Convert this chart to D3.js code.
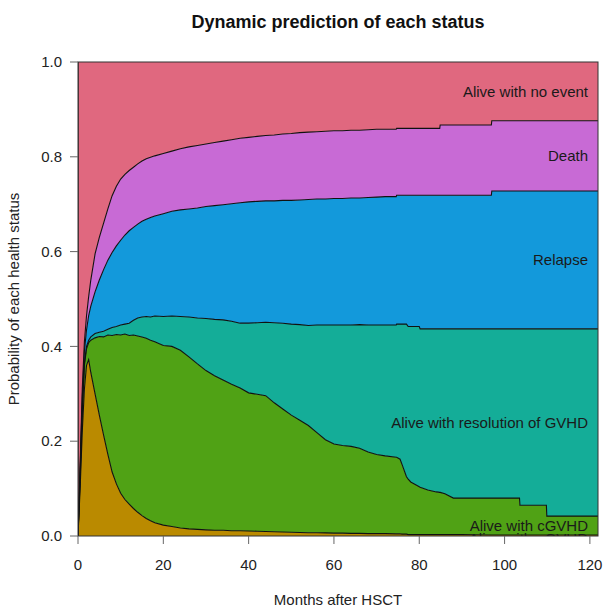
<!DOCTYPE html>
<html><head><meta charset="utf-8">
<script src="https://cdn.jsdelivr.net/npm/d3@7"></script>
<style>
body{margin:0;background:#fff}
svg{display:block}
text{font-family:"Liberation Sans",Arial,Helvetica,sans-serif}
</style>
</head><body>
<svg id="chart" width="604" height="610"></svg>
<script>
// ---- data (cumulative stacked probabilities) ----
const months = [0,0.5,1,1.5,2,2.5,3,4,5,6,7,8,9,10,11,12,13,14,15,16,17,18,20,22,24,26,28,30,32,34,36,38,40,42,44,46,48,50,52,54,56,58,60,62,64,66,68,70,72,74.6,74.7,75.5,76,77,77.4,78,80,80.2,82,84,84.8,84.9,86,88,90,96.9,97,103.5,103.6,109.8,109.9,121.9];

const stateNames = ["Alive with aGVHD","Alive with cGVHD","Alive with resolution of GVHD","Relapse","Death","Alive with no event"];

const cumAGVHD = [0,0.10,0.22,0.31,0.36,0.372,0.345,0.30,0.255,0.213,0.172,0.135,0.11,0.09,0.077,0.067,0.058,0.05,0.043,0.037,0.032,0.028,0.023,0.020,0.017,0.015,0.014,0.013,0.012,0.012,0.011,0.011,0.0105,0.010,0.0095,0.009,0.0085,0.008,0.0075,0.007,0.007,0.0065,0.006,0.006,0.0055,0.0055,0.005,0.005,0.005,0.0045,0.0045,0.0045,0.004,0.004,0.003,0.003,0.003,0.003,0.003,0.003,0.003,0.003,0.003,0.003,0.003,0.002,0.002,0.002,0.002,0.002,0.002,0.002];

const cumCGVHD = [0,0.12,0.26,0.36,0.395,0.408,0.413,0.418,0.421,0.42,0.424,0.423,0.425,0.424,0.426,0.423,0.424,0.422,0.42,0.417,0.413,0.41,0.402,0.40,0.392,0.378,0.363,0.349,0.338,0.329,0.32,0.312,0.302,0.299,0.296,0.281,0.268,0.255,0.244,0.233,0.218,0.203,0.194,0.191,0.189,0.185,0.177,0.172,0.169,0.166,0.166,0.162,0.15,0.125,0.12,0.114,0.104,0.103,0.097,0.093,0.092,0.092,0.089,0.08,0.08,0.08,0.08,0.08,0.065,0.065,0.042,0.042];

const cumResolved = [0,0.13,0.27,0.365,0.40,0.413,0.42,0.427,0.43,0.432,0.436,0.44,0.442,0.445,0.447,0.449,0.455,0.46,0.462,0.463,0.462,0.464,0.463,0.464,0.463,0.462,0.46,0.459,0.457,0.456,0.453,0.449,0.449,0.45,0.451,0.45,0.449,0.447,0.446,0.444,0.445,0.445,0.445,0.445,0.445,0.446,0.445,0.445,0.445,0.445,0.447,0.447,0.447,0.447,0.442,0.442,0.442,0.437,0.437,0.437,0.437,0.437,0.437,0.437,0.437,0.437,0.437,0.437,0.437,0.437,0.437,0.437];

const cumRelapse = [0,0.14,0.29,0.39,0.435,0.465,0.485,0.515,0.54,0.562,0.582,0.598,0.612,0.624,0.635,0.644,0.651,0.658,0.664,0.668,0.672,0.675,0.68,0.685,0.688,0.69,0.692,0.695,0.697,0.699,0.701,0.703,0.705,0.706,0.707,0.707,0.708,0.708,0.709,0.71,0.711,0.711,0.712,0.712,0.713,0.713,0.714,0.715,0.716,0.716,0.719,0.719,0.719,0.719,0.719,0.719,0.719,0.719,0.719,0.719,0.719,0.719,0.719,0.719,0.719,0.719,0.728,0.728,0.728,0.728,0.728,0.728];

const cumDeath = [0,0.15,0.31,0.41,0.465,0.505,0.54,0.595,0.63,0.66,0.69,0.718,0.738,0.753,0.763,0.771,0.778,0.785,0.791,0.796,0.799,0.802,0.807,0.812,0.817,0.821,0.824,0.827,0.83,0.833,0.836,0.839,0.841,0.843,0.845,0.846,0.848,0.849,0.851,0.852,0.853,0.854,0.855,0.855,0.856,0.856,0.857,0.858,0.858,0.858,0.86,0.86,0.86,0.86,0.86,0.86,0.86,0.86,0.86,0.86,0.86,0.867,0.867,0.867,0.867,0.867,0.876,0.876,0.876,0.876,0.876,0.876];

const cumNoEvent = months.map(() => 1);

const xTicks = [0,20,40,60,80,100,120];
const yTicks = [0,0.2,0.4,0.6,0.8,1.0];
const yTickLabels = ["0.0","0.2","0.4","0.6","0.8","1.0"];
const stateColors = ["#BA8A00","#50A215","#14AD98","#1399DB","#C86AD5","#E0687F"];

const titleText = "Dynamic prediction of each status";
const xTitle = "Months after HSCT";
const yTitle = "Probability of each health status";

// ---- drawing ----
const svg = d3.select("#chart");
const L = 78, R = 598, T = 62, B = 536;
const x = d3.scaleLinear().domain([0, 121.9]).range([L, R]);
const y = d3.scaleLinear().domain([0, 1]).range([B, T]);

const uppers = [cumAGVHD, cumCGVHD, cumResolved, cumRelapse, cumDeath, cumNoEvent];

svg.append("defs").append("clipPath").attr("id","plotclip")
  .append("rect").attr("x",L).attr("y",T).attr("width",R-L).attr("height",B-T);

const g = svg.append("g").attr("clip-path","url(#plotclip)");

uppers.forEach((up, k) => {
  const low = k === 0 ? null : uppers[k-1];
  const area = d3.area()
    .x((d,i) => x(months[i]))
    .y0((d,i) => low ? y(low[i]) : y(0))
    .y1((d,i) => y(up[i]));
  g.append("path").datum(months).attr("d", area)
    .attr("fill", stateColors[k]).attr("stroke","none");
});

uppers.slice(0,5).forEach(up => {
  const line = d3.line().x((d,i) => x(months[i])).y((d,i) => y(up[i]));
  g.append("path").datum(months).attr("d", line)
    .attr("fill","none").attr("stroke","#111").attr("stroke-width",1.1);
});

g.append("line").attr("x1",x(0)).attr("x2",x(0)).attr("y1",y(0)).attr("y2",y(1))
  .attr("stroke","#111").attr("stroke-width",1.2);

// state labels at the middle of each band at the last time point
const last = months.length - 1;
stateNames.forEach((name, k) => {
  const hi = uppers[k][last];
  const lo = k === 0 ? 0 : uppers[k-1][last];
  const yy = k === 0 ? y(0) + 3 : y((hi+lo)/2);
  g.append("text").attr("x", 588).attr("y", yy)
    .attr("dy","0.35em").attr("text-anchor","end")
    .attr("font-size",15).attr("fill","#1a1a1a").text(name);
});

// box
svg.append("rect").attr("x",L).attr("y",T).attr("width",R-L).attr("height",B-T)
  .attr("fill","none").attr("stroke","#333").attr("stroke-width",1);

// x axis
const xa = svg.append("g");
xTicks.forEach(t => {
  xa.append("line").attr("x1",x(t)).attr("x2",x(t)).attr("y1",B).attr("y2",B+8)
    .attr("stroke","#666").attr("stroke-width",1);
  xa.append("text").attr("x",x(t)).attr("y",570).attr("text-anchor","middle")
    .attr("font-size",15).attr("fill","#222").text(t);
});
// y axis
const ya = svg.append("g");
yTicks.forEach((t,i) => {
  ya.append("line").attr("x1",L-8).attr("x2",L).attr("y1",y(t)).attr("y2",y(t))
    .attr("stroke","#666").attr("stroke-width",1);
  ya.append("text").attr("x",62).attr("y",y(t)).attr("dy","0.35em").attr("text-anchor","end")
    .attr("font-size",15).attr("fill","#222").text(yTickLabels[i]);
});

svg.append("text").attr("x",(L+R)/2).attr("y",28).attr("text-anchor","middle")
  .attr("font-size",18).attr("font-weight","bold").attr("fill","#111").text(titleText);
svg.append("text").attr("x",(L+R)/2).attr("y",605).attr("text-anchor","middle")
  .attr("font-size",15).attr("fill","#222").text(xTitle);
svg.append("text").attr("transform",`translate(19,${(T+B)/2}) rotate(-90)`)
  .attr("text-anchor","middle").attr("font-size",15).attr("fill","#222").text(yTitle);
</script>
</body></html>
